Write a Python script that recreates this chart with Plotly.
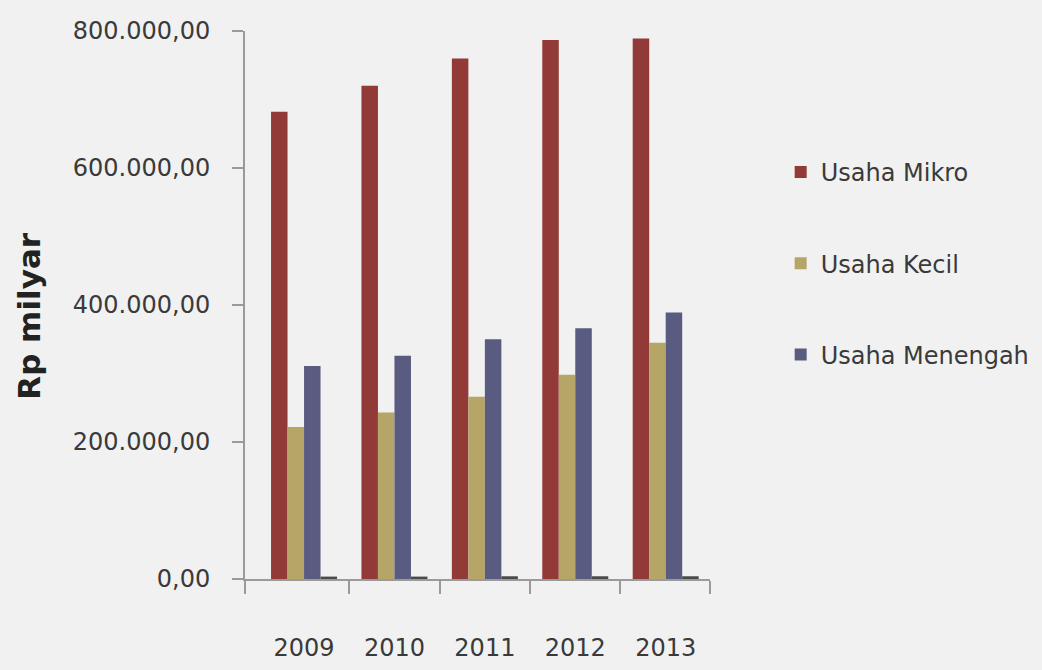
import plotly.graph_objects as go

# Nilai per tahun (Rp milyar)
tahun = ["2009", "2010", "2011", "2012", "2013"]
usaha_mikro = [682000, 720000, 760000, 787000, 789000]
usaha_kecil = [222000, 243000, 266000, 298000, 345000]
usaha_menengah = [311000, 326000, 350000, 366000, 389000]
usaha_lain = [3500, 3500, 4000, 4000, 4000]

y_ticks = [0, 200000, 400000, 600000, 800000]

x_pos = list(range(len(tahun)))
x_left, x_right = -0.653, 4.49
batas = [x_left] + [i + 0.5 for i in range(len(tahun) - 1)] + [x_right]

font_main = "DejaVu Sans"

fig = go.Figure()
series = [
    ("Usaha Mikro", usaha_mikro, "#913a37", True),
    ("Usaha Kecil", usaha_kecil, "#b5a668", True),
    ("Usaha Menengah", usaha_menengah, "#5a5b80", True),
    ("Lainnya", usaha_lain, "#4a4a4a", False),
]
for i, (nama, nilai, warna, tampil) in enumerate(series):
    fig.add_trace(go.Bar(
        x=x_pos, y=nilai, name=nama,
        marker=dict(color=warna, line=dict(width=0)),
        showlegend=tampil, legendgroup=f"g{i}",
    ))

fig.update_layout(
    width=1042, height=670,
    paper_bgcolor="#f1f1f1", plot_bgcolor="#f1f1f1",
    margin=dict(l=245, r=332, t=31, b=91, autoexpand=False),
    barmode="group", bargap=0.27, bargroupgap=0,
    separators=",.",
    font=dict(family=font_main, color="#3a3a3a", size=24),
    legend=dict(
        x=1.152, y=0.783, xanchor="left", yanchor="top",
        font=dict(family=font_main, size=24, color="#3a3a3a"),
        tracegroupgap=57, traceorder="grouped",
        bgcolor="rgba(0,0,0,0)",
    ),
    xaxis=dict(
        range=[x_left, x_right], automargin=False,
        tickvals=x_pos, ticktext=tahun,
        ticks="", showgrid=False, zeroline=False,
        showline=True, linecolor="#9a9a9a", linewidth=2,
        ticklabelstandoff=46,
        tickfont=dict(family=font_main, size=24, color="#3a3a3a"),
        minor=dict(tickvals=batas, ticks="outside", ticklen=13,
                   tickcolor="#9a9a9a", tickwidth=2, showgrid=False),
    ),
    yaxis=dict(
        range=[0, 800000], automargin=False,
        tickvals=y_ticks, tickformat=",.2f",
        ticks="outside", ticklen=11, tickcolor="#9a9a9a", tickwidth=2,
        showgrid=False, zeroline=False,
        showline=True, linecolor="#9a9a9a", linewidth=2,
        ticklabelstandoff=17,
        tickfont=dict(family=font_main, size=24, color="#3a3a3a"),
    ),
    annotations=[dict(
        text="<b>Rp milyar</b>", textangle=-90,
        xref="paper", yref="paper", x=-0.465, y=0.48,
        xanchor="center", yanchor="middle", showarrow=False,
        font=dict(family=font_main, size=31, color="#222222"),
    )],
)

fig.write_html("out.html")
